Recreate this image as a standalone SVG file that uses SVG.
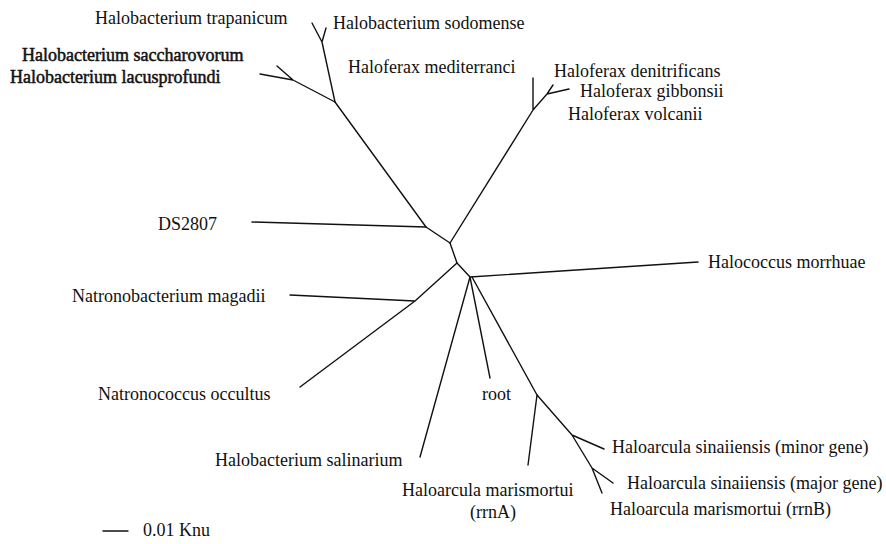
<svg xmlns="http://www.w3.org/2000/svg" width="886" height="544" viewBox="0 0 886 544">
<style>
text{font-family:"Liberation Serif","Times New Roman",serif;font-size:18px;fill:#111}
.e{stroke:#111;stroke-width:1.4;fill:none;stroke-linecap:round;stroke-linejoin:round}
.b{stroke:#111;stroke-width:0.5}
</style>
<rect width="886" height="544" fill="#fff"/>
<g id="connectors" class="e">
<path d="M312,23L322,42L326,28M322,42L335,102"/>
<path d="M277,66L293,80M260,74L293,80L335,102"/>
<path d="M335,102L426,227"/>
<path d="M252,222L426,227L450,243"/>
<path d="M450,243L533,110L533,78M533,110L547,94L553,85M547,94L569,89"/>
<path d="M450,243L457,263L415,301L290,295M415,301L300,387"/>
<path d="M457,263L470,277L698,262"/>
<path d="M470,277L420,457M470,277L490,378M472,277L537,395"/>
<path d="M537,395L528,465M537,395L572,435L604,449M572,435L592,468L613,483M592,468L602,493"/>
</g>
<g id="n-trapanicum"><text x="95" y="24">Halobacterium trapanicum</text></g>
<g id="n-sodomense"><text x="333" y="29">Halobacterium sodomense</text></g>
<g id="n-saccharovorum"><text class="b" x="22" y="61">Halobacterium saccharovorum</text></g>
<g id="n-lacusprofundi"><text class="b" x="10" y="83">Halobacterium lacusprofundi</text></g>
<g id="n-mediterranei"><text x="348" y="73">Haloferax mediterranci</text></g>
<g id="n-denitrificans"><text x="554" y="77">Haloferax denitrificans</text></g>
<g id="n-gibbonsii"><text x="580" y="97">Haloferax gibbonsii</text></g>
<g id="n-volcanii"><text x="568" y="120">Haloferax volcanii</text></g>
<g id="n-ds2807"><text x="158" y="230">DS2807</text></g>
<g id="n-halococcus"><text x="708" y="268">Halococcus morrhuae</text></g>
<g id="n-magadii"><text x="72" y="302">Natronobacterium magadii</text></g>
<g id="n-occultus"><text x="98" y="400">Natronococcus occultus</text></g>
<g id="n-root"><text x="482" y="400">root</text></g>
<g id="n-salinarium"><text x="215" y="466">Halobacterium salinarium</text></g>
<g id="n-rrnA"><text x="402" y="496">Haloarcula marismortui</text><text x="470" y="518">(rrnA)</text></g>
<g id="n-minor"><text x="612" y="453">Haloarcula sinaiiensis (minor gene)</text></g>
<g id="n-major"><text x="627" y="489">Haloarcula sinaiiensis (major gene)</text></g>
<g id="n-rrnB"><text x="610" y="515">Haloarcula marismortui (rrnB)</text></g>
<g id="scale"><path class="e" d="M103,531H128"/><text x="143" y="536">0.01 Knu</text></g>
</svg>
